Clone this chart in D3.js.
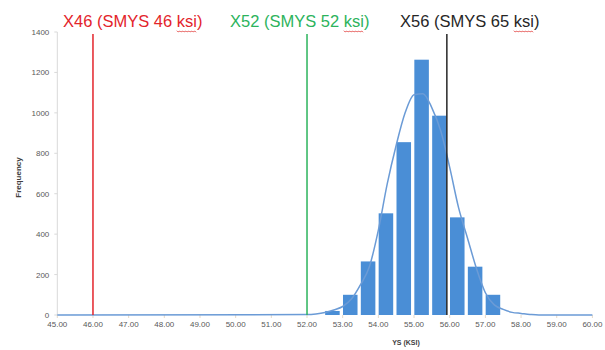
<!DOCTYPE html>
<html>
<head>
<meta charset="utf-8">
<script src="https://cdn.jsdelivr.net/npm/d3@7"></script>
<style>
  body { margin: 0; background: #fff; }
  svg { display: block; font-family: "Liberation Sans", Arial, sans-serif; }
</style>
</head>
<body>
<div id="chart"></div>
<script>
// histogram bins (lower edge, ksi) and counts
var binStart = [52.5, 53.0, 53.5, 54.0, 54.5, 55.0, 55.5, 56.0, 56.5, 57.0]
var binCount = [20, 100, 265, 503, 855, 1263, 986, 483, 239, 100]
var binWidth = 0.5

// fitted curve
var curveX = [45, 52.0, 52.25, 52.5, 52.75, 53.0, 53.25, 53.5, 53.75, 54.0, 54.25, 54.5, 54.75, 55.0, 55.25, 55.5, 55.75, 56.0, 56.25, 56.5, 56.75, 57.0, 57.25, 57.5, 57.75, 58.0, 58.25, 58.5, 60]
var curveY = [0, 2, 5, 12, 25, 42, 80, 150, 240, 420, 650, 840, 1000, 1090, 1095, 1025, 910, 730, 530, 380, 230, 110, 50, 28, 13, 8, 3, 0, 0]

// grade limits
var gradeNames = ["X46 (SMYS 46 ", "X52 (SMYS 52 ", "X56 (SMYS 65 "]
var gradeValues = [46, 52, 55.92]
var gradeColors = ["#e3242b", "#2cb35c", "#262626"]

var xTicks = d3.range(45, 60.001, 1)
var yTicks = d3.range(0, 1401, 200)

var w = 605, h = 350
var svg = d3.select("#chart").append("svg").attr("width", w).attr("height", h)

var x = d3.scaleLinear().domain([45, 60]).range([57.3, 592.4])
var y = d3.scaleLinear().domain([0, 1400]).range([315, 32])

// y axis
svg.append("line")
  .attr("x1", x(45)).attr("x2", x(45))
  .attr("y1", y(1400)).attr("y2", y(0))
  .attr("stroke", "#d9d9d9")
svg.selectAll(".ytick").data(yTicks).enter().append("line")
  .attr("x1", x(45) - 3).attr("x2", x(45))
  .attr("y1", function(d) { return y(d) }).attr("y2", function(d) { return y(d) })
  .attr("stroke", "#d9d9d9")
svg.selectAll(".ylab").data(yTicks).enter().append("text")
  .attr("x", x(45) - 8).attr("y", function(d) { return y(d) + 3 })
  .attr("text-anchor", "end").attr("font-size", 8).attr("fill", "#595959")
  .text(function(d) { return d })

svg.append("text")
  .attr("transform", "translate(21," + (y(700) + 4) + ") rotate(-90)")
  .attr("text-anchor", "middle").attr("font-size", 8).attr("font-weight", "bold")
  .attr("fill", "#404040").text("Frequency")

// x axis
svg.selectAll(".xtick").data(xTicks).enter().append("line")
  .attr("x1", function(d) { return x(d) }).attr("x2", function(d) { return x(d) })
  .attr("y1", y(0)).attr("y2", y(0) + 3)
  .attr("stroke", "#e6d9c8")
svg.selectAll(".xlab").data(xTicks).enter().append("text")
  .attr("x", function(d) { return x(d) }).attr("y", 327)
  .attr("text-anchor", "middle").attr("font-size", 8).attr("fill", "#595959")
  .text(function(d) { return d.toFixed(2) })

svg.append("text")
  .attr("x", 406).attr("y", 345)
  .attr("text-anchor", "middle").attr("font-size", 7).attr("font-weight", "bold")
  .attr("fill", "#404040").text("YS (KSI)")

// bars
svg.selectAll(".bar").data(binStart).enter().append("rect")
  .attr("class", "bar")
  .attr("x", function(d) { return x(d) + 0.3 })
  .attr("width", function(d) { return x(d + binWidth) - x(d) - 3.3 })
  .attr("y", function(d, i) { return y(binCount[i]) })
  .attr("height", function(d, i) { return y(0) - y(binCount[i]) })
  .attr("fill", "#4a8ed6")

// fitted curve
var line = d3.line()
  .x(function(d) { return x(d[0]) })
  .y(function(d) { return y(d[1]) })
  .curve(d3.curveMonotoneX)
svg.append("path")
  .datum(d3.zip(curveX, curveY))
  .attr("d", line)
  .attr("fill", "none").attr("stroke", "#6b9bd6").attr("stroke-width", 1.5)

// grade lines
svg.selectAll(".grade").data(gradeValues).enter().append("line")
  .attr("x1", function(d) { return x(d) }).attr("x2", function(d) { return x(d) })
  .attr("y1", 34).attr("y2", y(0))
  .attr("stroke", function(d, i) { return gradeColors[i] })
  .attr("stroke-width", 1.5)

// grade labels
var labelX = [63, 230, 400]
gradeNames.forEach(function(name, i) {
  var t = svg.append("text")
    .attr("x", labelX[i]).attr("y", 27)
    .attr("font-size", 16.5).attr("fill", gradeColors[i])
  t.append("tspan").text(name)
  t.append("tspan").text("ksi")
  t.append("tspan").text(")")
  var node = t.node()
  var n = name.length
  var sx = node.getStartPositionOfChar(n).x
  var ex = sx + node.getSubStringLength(n, 3)
  var pts = []
  for (var px = sx, j = 0; px <= ex; px += 1.5, j++) {
    pts.push([px, 31 + (j % 2 ? 1.2 : -0.2)])
  }
  svg.append("path")
    .attr("d", d3.line().curve(d3.curveBasis)(pts))
    .attr("fill", "none").attr("stroke", "#e0302f").attr("stroke-width", 0.8)
})
</script>
</body>
</html>
